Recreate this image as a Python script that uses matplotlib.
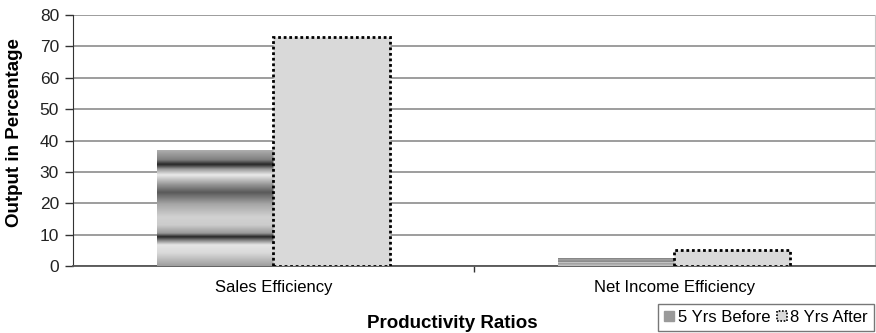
import numpy as np
import matplotlib.pyplot as plt
from matplotlib.patches import Patch
from matplotlib.colors import LinearSegmentedColormap

plt.rcParams['font.family'] = ['Liberation Sans', 'DejaVu Sans']

categories = ['Sales Efficiency', 'Net Income Efficiency']
before_5yrs = [37, 2.5]
after_8yrs = [73, 5]
series_names = ['5 Yrs Before', '8 Yrs After']

# banded metallic shading for the "before" bars (position along bar height -> gray level)
band_stops = [(0.0, 0.62), (0.11, 0.85), (0.18, 0.9), (0.22, 0.5), (0.25, 0.15),
              (0.28, 0.6), (0.35, 0.8), (0.42, 0.82), (0.53, 0.65), (0.63, 0.35),
              (0.70, 0.6), (0.78, 0.92), (0.83, 0.6), (0.87, 0.15), (0.91, 0.5),
              (1.0, 0.7)]
band_cmap = LinearSegmentedColormap.from_list(
    'bands', [(p, (g, g, g)) for p, g in band_stops])

fig = plt.figure(figsize=(8.76, 3.33), dpi=100)
ax = fig.add_axes([0.0833, 0.201, 0.915, 0.754])

x = np.arange(len(categories))
w = 0.29

bars_before = ax.bar(x - w / 2, before_5yrs, w, facecolor='none', edgecolor='none', zorder=3)
for rect in bars_before:
    x0, h = rect.get_x(), rect.get_height()
    grad = np.linspace(0, 1, 256).reshape(-1, 1)
    im = ax.imshow(grad, cmap=band_cmap, origin='lower', aspect='auto',
                   extent=(x0, x0 + rect.get_width(), 0, h), zorder=3,
                   interpolation='bilinear')
    im.set_clip_path(rect)

ax.bar(x + w / 2, after_8yrs, w, facecolor='#d9d9d9', edgecolor='black',
       linewidth=2, linestyle=(0, (1, 1)), zorder=3)

ax.set_xlim(-0.5, 1.5)
ax.set_ylim(0, 80)
ax.set_yticks(range(0, 81, 10))
ax.yaxis.grid(True, color='#8c8c8c', linewidth=1.2)
ax.set_axisbelow(True)

ax.set_xticks(x)
ax.set_xticklabels(categories, fontsize=12)
ax.set_xticks([0.5], minor=True)
ax.tick_params(axis='x', which='major', length=0, pad=10)
ax.tick_params(axis='x', which='minor', length=4, width=1, color='#333333')
ax.tick_params(axis='y', length=6, width=1, color='#333333', labelsize=12.5,
               labelcolor='#222222', pad=4)

ax.spines['top'].set_visible(False)
ax.spines['right'].set_color('#c8c8c8')
ax.spines['left'].set_color('#333333')
ax.spines['bottom'].set_color('#555555')
ax.spines['bottom'].set_linewidth(1.3)

ax.set_ylabel('Output in Percentage', fontsize=13.5, fontweight='bold')
ax.yaxis.set_label_coords(-0.062, 0.53)
ax.set_xlabel('Productivity Ratios', fontsize=13.5, fontweight='bold')
ax.xaxis.set_label_coords(0.473, -0.195)

handles = [Patch(facecolor='#9a9a9a', edgecolor='#9a9a9a', hatch='---'),
           Patch(facecolor='#d9d9d9', edgecolor='black', linestyle=(0, (1, 1)), linewidth=1.2)]
leg = fig.legend(handles, series_names, loc='lower right', bbox_to_anchor=(1.0, 0.0),
                 ncol=2, fontsize=12, frameon=True, fancybox=False, edgecolor='#555555',
                 handlelength=0.6, handleheight=0.6, handletextpad=0.2, columnspacing=0.4,
                 borderpad=0.35, borderaxespad=0.15)
leg.get_frame().set_linewidth(1)

fig.savefig('out.png', dpi=100)
